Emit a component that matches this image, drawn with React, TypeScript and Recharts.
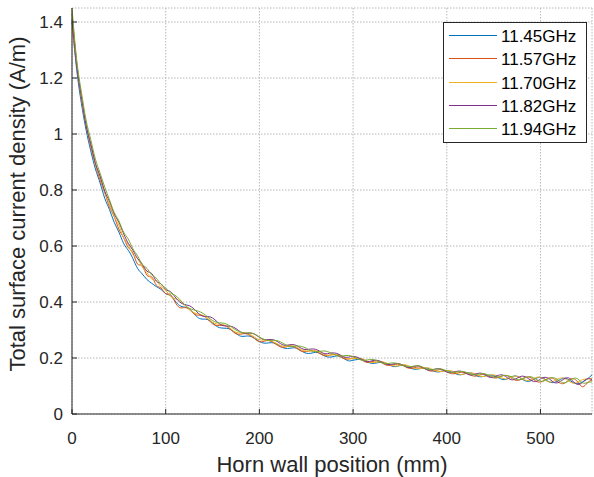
import {
  LineChart,
  Line,
  XAxis,
  YAxis,
  CartesianGrid,
  Legend,
  Label,
} from "recharts";

// horn wall position (mm)
const positions = [
  0, 5, 10, 15, 20, 25, 30, 35, 40, 45, 50, 55, 60, 65, 70, 75, 80, 85, 90, 95,
  100, 105, 110, 115, 120, 125, 130, 135, 140, 145, 150, 155, 160, 165, 170, 175, 180, 185, 190, 195,
  200, 205, 210, 215, 220, 225, 230, 235, 240, 245, 250, 255, 260, 265, 270, 275, 280, 285, 290, 295,
  300, 305, 310, 315, 320, 325, 330, 335, 340, 345, 350, 355, 360, 365, 370, 375, 380, 385, 390, 395,
  400, 405, 410, 415, 420, 425, 430, 435, 440, 445, 450, 455, 460, 465, 470, 475, 480, 485, 490, 495,
  500, 505, 510, 515, 520, 525, 530, 535, 540, 545, 550, 555,
];

const f1145 = [
  1.400, 1.230, 1.110, 1.015, 0.940, 0.875, 0.825, 0.770, 0.730, 0.685,
  0.650, 0.610, 0.585, 0.555, 0.520, 0.500, 0.480, 0.467, 0.455, 0.445,
  0.430, 0.423, 0.404, 0.387, 0.382, 0.376, 0.360, 0.343, 0.339, 0.337,
  0.326, 0.312, 0.307, 0.306, 0.301, 0.288, 0.278, 0.278, 0.278, 0.270,
  0.259, 0.253, 0.254, 0.254, 0.247, 0.237, 0.234, 0.236, 0.235, 0.225,
  0.217, 0.217, 0.220, 0.216, 0.207, 0.203, 0.206, 0.207, 0.199, 0.190,
  0.192, 0.195, 0.195, 0.186, 0.181, 0.182, 0.185, 0.181, 0.173, 0.169,
  0.173, 0.174, 0.167, 0.160, 0.161, 0.164, 0.163, 0.155, 0.150, 0.153,
  0.155, 0.151, 0.143, 0.140, 0.145, 0.147, 0.140, 0.133, 0.135, 0.139,
  0.137, 0.130, 0.123, 0.126, 0.134, 0.135, 0.125, 0.117, 0.119, 0.127,
  0.131, 0.124, 0.114, 0.113, 0.121, 0.128, 0.123, 0.112, 0.108, 0.115,
  0.125, 0.140,
];

const f1157 = [
  1.430, 1.255, 1.125, 1.035, 0.955, 0.890, 0.835, 0.790, 0.740, 0.705,
  0.660, 0.630, 0.595, 0.575, 0.535, 0.530, 0.495, 0.490, 0.460, 0.450,
  0.430, 0.427, 0.400, 0.380, 0.380, 0.374, 0.358, 0.353, 0.351, 0.338,
  0.322, 0.316, 0.317, 0.313, 0.299, 0.287, 0.285, 0.287, 0.281, 0.269,
  0.258, 0.260, 0.262, 0.255, 0.244, 0.238, 0.241, 0.242, 0.234, 0.224,
  0.223, 0.226, 0.224, 0.215, 0.208, 0.210, 0.213, 0.207, 0.198, 0.196,
  0.200, 0.199, 0.191, 0.184, 0.187, 0.189, 0.184, 0.175, 0.174, 0.177,
  0.177, 0.170, 0.163, 0.165, 0.168, 0.164, 0.156, 0.153, 0.157, 0.158,
  0.151, 0.144, 0.145, 0.149, 0.148, 0.140, 0.135, 0.139, 0.142, 0.135,
  0.129, 0.130, 0.137, 0.136, 0.126, 0.120, 0.125, 0.132, 0.129, 0.118,
  0.114, 0.122, 0.129, 0.124, 0.112, 0.109, 0.121, 0.126, 0.114, 0.097,
  0.111, 0.122,
];

const f1170 = [
  1.380, 1.250, 1.135, 1.030, 0.965, 0.890, 0.845, 0.790, 0.750, 0.705,
  0.675, 0.630, 0.605, 0.570, 0.555, 0.525, 0.505, 0.482, 0.475, 0.455,
  0.442, 0.421, 0.412, 0.405, 0.390, 0.374, 0.362, 0.357, 0.352, 0.341,
  0.328, 0.321, 0.319, 0.315, 0.303, 0.292, 0.289, 0.288, 0.284, 0.274,
  0.265, 0.264, 0.264, 0.258, 0.249, 0.242, 0.243, 0.244, 0.238, 0.229,
  0.225, 0.226, 0.226, 0.220, 0.212, 0.210, 0.212, 0.212, 0.203, 0.197,
  0.198, 0.199, 0.197, 0.189, 0.184, 0.185, 0.187, 0.183, 0.176, 0.171,
  0.174, 0.176, 0.171, 0.164, 0.162, 0.164, 0.165, 0.159, 0.152, 0.152,
  0.155, 0.154, 0.147, 0.141, 0.144, 0.147, 0.144, 0.136, 0.134, 0.138,
  0.140, 0.134, 0.127, 0.126, 0.133, 0.135, 0.127, 0.120, 0.122, 0.130,
  0.131, 0.121, 0.114, 0.119, 0.127, 0.128, 0.118, 0.110, 0.114, 0.123,
  0.125, 0.127,
];

const f1182 = [
  1.410, 1.245, 1.135, 1.030, 0.965, 0.895, 0.850, 0.795, 0.760, 0.715,
  0.685, 0.645, 0.610, 0.585, 0.555, 0.535, 0.510, 0.502, 0.475, 0.465,
  0.445, 0.437, 0.418, 0.400, 0.391, 0.387, 0.376, 0.359, 0.349, 0.348,
  0.343, 0.329, 0.317, 0.314, 0.313, 0.305, 0.293, 0.288, 0.289, 0.285,
  0.274, 0.266, 0.266, 0.265, 0.257, 0.247, 0.246, 0.248, 0.244, 0.234,
  0.230, 0.232, 0.231, 0.223, 0.215, 0.217, 0.218, 0.213, 0.204, 0.203,
  0.206, 0.202, 0.194, 0.187, 0.190, 0.192, 0.187, 0.178, 0.177, 0.180,
  0.179, 0.171, 0.166, 0.170, 0.172, 0.165, 0.157, 0.158, 0.162, 0.159,
  0.150, 0.148, 0.152, 0.153, 0.146, 0.139, 0.142, 0.146, 0.142, 0.132,
  0.132, 0.138, 0.139, 0.129, 0.122, 0.128, 0.135, 0.131, 0.120, 0.116,
  0.125, 0.131, 0.124, 0.112, 0.114, 0.125, 0.129, 0.116, 0.106, 0.113,
  0.126, 0.122,
];

const f1194 = [
  1.450, 1.265, 1.150, 1.050, 0.980, 0.910, 0.860, 0.810, 0.765, 0.720,
  0.690, 0.650, 0.625, 0.590, 0.565, 0.535, 0.520, 0.497, 0.485, 0.463,
  0.450, 0.433, 0.424, 0.409, 0.391, 0.378, 0.372, 0.367, 0.359, 0.346,
  0.334, 0.327, 0.325, 0.321, 0.311, 0.300, 0.292, 0.290, 0.290, 0.285,
  0.275, 0.266, 0.263, 0.263, 0.261, 0.253, 0.244, 0.241, 0.243, 0.241,
  0.235, 0.226, 0.222, 0.224, 0.225, 0.220, 0.212, 0.207, 0.208, 0.209,
  0.205, 0.197, 0.192, 0.193, 0.195, 0.191, 0.184, 0.179, 0.182, 0.182,
  0.178, 0.171, 0.169, 0.171, 0.172, 0.166, 0.159, 0.159, 0.161, 0.160,
  0.154, 0.148, 0.150, 0.152, 0.150, 0.143, 0.140, 0.143, 0.144, 0.138,
  0.132, 0.132, 0.137, 0.137, 0.131, 0.123, 0.124, 0.131, 0.133, 0.125,
  0.117, 0.120, 0.128, 0.129, 0.119, 0.111, 0.118, 0.127, 0.125, 0.111,
  0.112, 0.115,
];

const seriesNames = ["11.45GHz", "11.57GHz", "11.70GHz", "11.82GHz", "11.94GHz"];
const seriesValues = [f1145, f1157, f1170, f1182, f1194];
const seriesColors = ["#0072BD", "#D95319", "#EDB120", "#7E2F8E", "#77AC30"];

const xTicks = [0, 100, 200, 300, 400, 500];
const yTicks = [0, 0.2, 0.4, 0.6, 0.8, 1, 1.2, 1.4];

const data = positions.map((x, i) => {
  const row: any = { x };
  seriesNames.forEach((n, k) => {
    row[n] = seriesValues[k][i];
  });
  return row;
});

const FONT = "'Liberation Sans', Arial, Helvetica, sans-serif";
const INK = "#262626";

function LegendBox() {
  return (
    <div
      style={{
        width: 144,
        height: 121,
        boxSizing: "border-box",
        border: `1px solid ${INK}`,
        background: "#fff",
      }}
    >
      <svg width={142} height={119} style={{ display: "block" }}>
        {seriesNames.map((n, k) => {
          const cy = Math.round(12 + k * 23.3) + 0.5;
          return (
            <g key={n}>
              <line x1={5} x2={53} y1={cy} y2={cy} stroke={seriesColors[k]} strokeWidth={1} />
              <text x={57} y={cy + 6} fontSize={17} fontFamily={FONT} fill="#000">
                {n}
              </text>
            </g>
          );
        })}
      </svg>
    </div>
  );
}

export default function App() {
  return (
    <div style={{ position: "absolute", left: 0, top: 0, background: "#fff" }}>
      <LineChart
        width={594}
        height={477}
        data={data}
        margin={{ top: 8, right: 2, bottom: 0, left: 0 }}
      >
        <CartesianGrid stroke="#b8b8b8" strokeDasharray="1.5 1.5" />

        <XAxis
          dataKey="x"
          type="number"
          domain={[0, 555]}
          ticks={xTicks}
          interval={0}
          height={63}
          stroke={INK}
          tickSize={-5}
          tickMargin={23}
          tick={{ fill: INK, fontSize: 17, fontFamily: FONT }}
        >
          <Label
            content={() => (
              <text x={332} y={472} textAnchor="middle" fontSize={22} fontFamily={FONT} fill={INK}>
                Horn wall position (mm)
              </text>
            )}
          />
        </XAxis>
        <XAxis
          xAxisId="top"
          orientation="top"
          type="number"
          domain={[0, 555]}
          ticks={xTicks}
          height={0}
          stroke={INK}
          tickSize={-5}
          tick={false}
        />

        <YAxis
          type="number"
          domain={[0, 1.45]}
          ticks={yTicks}
          interval={0}
          width={72}
          stroke={INK}
          tickSize={-5}
          tickMargin={14}
          tick={{ fill: INK, fontSize: 17, fontFamily: FONT }}
        >
          <Label
            content={() => (
              <text
                x={25}
                y={204}
                transform="rotate(-90 25 204)"
                textAnchor="middle"
                fontSize={22}
                fontFamily={FONT}
                fill={INK}
              >
                Total surface current density (A/m)
              </text>
            )}
          />
        </YAxis>
        <YAxis
          yAxisId="right"
          orientation="right"
          type="number"
          domain={[0, 1.45]}
          ticks={yTicks}
          width={0}
          stroke={INK}
          tickSize={-5}
          tick={false}
        />

        <Legend
          layout="vertical"
          align="center"
          verticalAlign="middle"
          content={() => <LegendBox />}
          wrapperStyle={{ position: "absolute", left: 443, top: 22, width: 144, height: 121 }}
        />

        {seriesNames.map((n, k) => (
          <Line
            key={n}
            dataKey={n}
            name={n}
            type="natural"
            stroke={seriesColors[k]}
            strokeWidth={1}
            dot={false}
            activeDot={false}
            isAnimationActive={false}
          />
        ))}
      </LineChart>
    </div>
  );
}
